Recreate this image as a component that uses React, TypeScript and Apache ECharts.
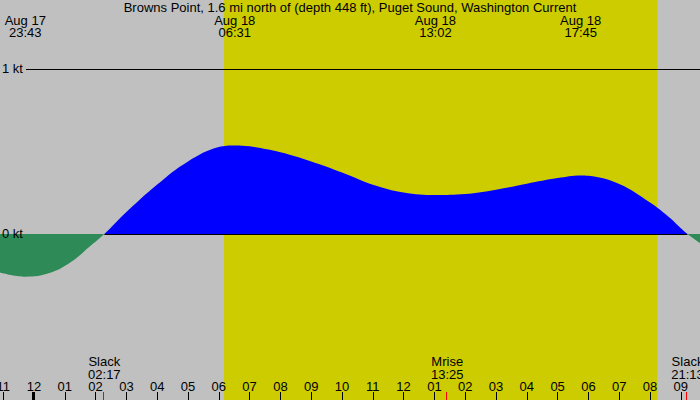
import React, { useEffect, useRef } from 'react';
import * as echarts from 'echarts';

// hours relative to Aug 18 00:00
const X_MIN = -1.104;
const X_MAX = 21.623;
const Y_MIN = -1.006;
const Y_MAX = 1.418;

const FONT = 'Liberation Sans';
const TITLE = 'Browns Point, 1.6 mi north of (depth 448 ft), Puget Sound, Washington Current';

// current speed (kt); negative = ebb, positive = flood
const hours = [-1.104, -0.27, 0.5, 1.2, 1.8, 2.283, 3, 4, 5, 6, 6.52, 7, 8, 9, 10, 11, 12, 13.03, 14, 15, 16, 17, 17.75, 18, 19, 20, 20.6, 21.217, 21.623];
const speeds = [-0.233, -0.259, -0.237, -0.17, -0.077, 0, 0.133, 0.3, 0.44, 0.527, 0.537, 0.531, 0.495, 0.44, 0.373, 0.299, 0.252, 0.236, 0.242, 0.268, 0.305, 0.339, 0.355, 0.353, 0.303, 0.191, 0.105, 0, -0.055];

// slack before and after the flood
const floodStart = 2.283;
const floodEnd = 21.217;

// sunrise / sunset
const daylight = [6.17, 20.24];

// hour ticks along the bottom
const tickHours = [-1, 0, 1, 2, 3, 4, 5, 6, 7, 8, 9, 10, 11, 12, 13, 14, 15, 16, 17, 18, 19, 20, 21];

// max / min current events along the top
const topEventHours = [-0.283, 6.517, 13.033, 17.75];
const topEventDates = ['Aug 17', 'Aug 18', 'Aug 18', 'Aug 18'];
const topEventTimes = ['23:43', '06:31', '13:02', '17:45'];

// slack and moonrise events along the bottom
const bottomEventHours = [2.283, 13.417, 21.217];
const bottomEventNames = ['Slack', 'Mrise', 'Slack'];
const bottomEventTimes = ['02:17', '13:25', '21:13'];

const hourLabel = (h: number) => {
  const hr = ((h % 12) + 12) % 12;
  const v = hr === 0 ? 12 : hr;
  return v < 10 ? '0' + v : '' + v;
};

const textEl = (text: string, x: number, y: number, color = '#000') => ({
  type: 'text',
  x,
  y,
  style: {
    text,
    fill: color,
    fontSize: 13,
    fontFamily: FONT,
    align: 'center',
    verticalAlign: 'middle',
  },
});

const TideChart: React.FC = () => {
  const chartRef = useRef<HTMLDivElement>(null);

  useEffect(() => {
    const chart = echarts.init(chartRef.current!, null, { renderer: 'svg' });

    const options = {
      animation: false,
      backgroundColor: '#c0c0c0',
      title: {
        text: TITLE,
        left: 'center',
        top: 1,
        padding: 0,
        textStyle: { fontSize: 13, fontWeight: 'normal', color: '#000', fontFamily: FONT },
      },
      grid: { left: 0, right: 0, top: 0, bottom: 0, containLabel: false, outerBoundsMode: 'none' },
      visualMap: {
        type: 'piecewise',
        show: false,
        dimension: 1,
        seriesIndex: 1,
        pieces: [
          { gte: -1, lt: 0, color: '#2e8b57' },
          { gte: 0, lte: 1, color: '#0000ff' },
        ],
      },
      xAxis: {
        type: 'value',
        min: X_MIN,
        max: X_MAX,
        z: 10,
        axisLine: { show: false, onZero: false },
        splitLine: { show: false },
        axisTick: {
          show: true,
          inside: true,
          length: 8,
          customValues: tickHours,
          lineStyle: { color: '#000', width: 1 },
        },
        axisLabel: {
          inside: true,
          customValues: tickHours,
          formatter: (v: number) => hourLabel(v),
          margin: 7,
          color: '#000',
          fontSize: 13,
          fontFamily: FONT,
          hideOverlap: false,
        },
      },
      yAxis: {
        type: 'value',
        min: Y_MIN,
        max: Y_MAX,
        z: 10,
        axisLine: { show: false, onZero: false },
        axisTick: { show: false },
        splitLine: { show: false },
        axisLabel: {
          inside: true,
          customValues: [0, 1],
          formatter: (v: number) => v + ' kt',
          margin: 2,
          color: '#000',
          fontSize: 13,
          fontFamily: FONT,
          verticalAlign: 'middle',
        },
      },
      series: [
        {
          type: 'line',
          data: [],
          z: 1,
          markArea: {
            silent: true,
            itemStyle: { color: '#cccc00' },
            data: [[{ xAxis: daylight[0] }, { xAxis: daylight[1] }]],
          },
        },
        {
          type: 'line',
          data: hours.map((h, i) => [h, speeds[i]]),
          smooth: 0.4,
          symbol: 'none',
          z: 2,
          lineStyle: { width: 0 },
          areaStyle: { opacity: 1, origin: 0 },
          markLine: {
            silent: true,
            symbol: 'none',
            label: { show: false },
            lineStyle: { color: '#000', width: 1, type: 'solid' },
            data: [
              [{ coord: [floodStart, 0] }, { coord: [floodEnd, 0] }],
              [{ coord: [-0.26, 1] }, { coord: [X_MAX, 1] }],
            ],
          },
        },
        {
          type: 'custom',
          z: 5,
          clip: false,
          data: topEventHours.map((h) => [h, 0]),
          renderItem: (params: any, api: any) => {
            const x = api.coord([api.value(0), 0])[0];
            const i = params.dataIndex;
            return {
              type: 'group',
              children: [textEl(topEventDates[i], x, 20), textEl(topEventTimes[i], x, 32)],
            };
          },
        },
        {
          type: 'custom',
          z: 5,
          clip: false,
          data: bottomEventHours.map((h) => [h, 0]),
          renderItem: (params: any, api: any) => {
            const x = api.coord([api.value(0), 0])[0];
            const i = params.dataIndex;
            return {
              type: 'group',
              children: [
                textEl(bottomEventNames[i], x, 361),
                textEl(bottomEventTimes[i], x, 374),
                { type: 'rect', shape: { x: Math.round(x) - 1, y: 392, width: 1, height: 8 }, style: { fill: '#ff0000' } },
              ],
            };
          },
        },
        {
          // midnight tick is drawn thicker
          type: 'custom',
          z: 11,
          clip: false,
          data: [[0, 0]],
          renderItem: (params: any, api: any) => {
            const x = api.coord([api.value(0), 0])[0];
            return {
              type: 'rect',
              shape: { x: Math.round(x) - 2, y: 392, width: 3, height: 8 },
              style: { fill: '#000' },
            };
          },
        },
      ],
    };

    chart.setOption(options);

    return () => {
      chart.dispose();
    };
  }, []);

  return <div ref={chartRef} style={{ position: 'fixed', left: 0, top: 0, width: '700px', height: '400px' }} />;
};

export default function App() {
  return <TideChart />;
}
